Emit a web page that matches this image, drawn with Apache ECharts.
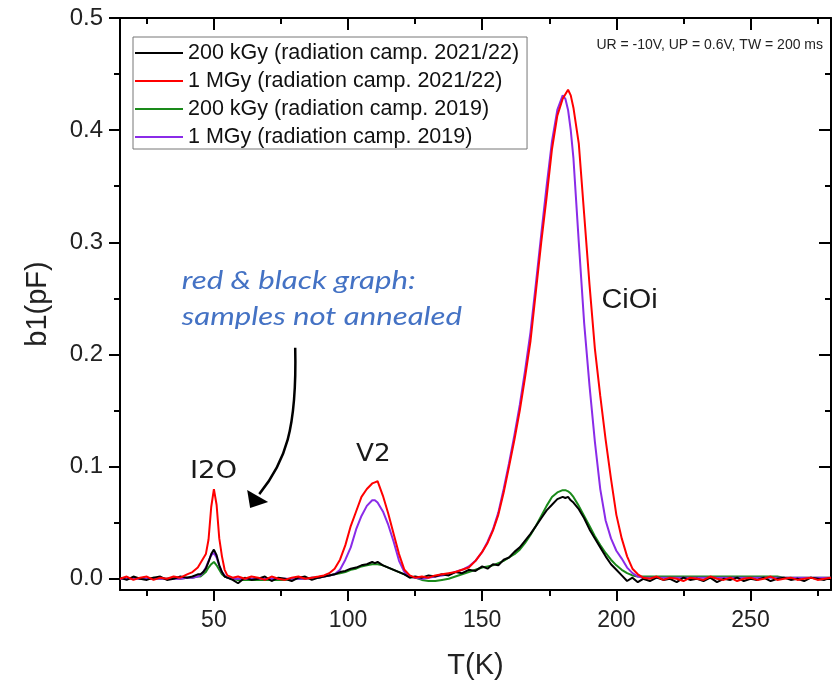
<!DOCTYPE html>
<html>
<head>
<meta charset="utf-8" />
<title>b1 DLTS spectra</title>
<script src="https://cdn.jsdelivr.net/npm/echarts@6.0.0/dist/echarts.min.js"></script>
<style>
  html, body { margin: 0; padding: 0; background: #fff; }
  #chart { width: 832px; height: 682px; }
</style>
</head>
<body>
<div id="chart"></div>
<script type="text/javascript">
  // temperature points (K), shared by the four curves
  const temps = [
    15, 17.5, 20, 22.5, 25, 27.5, 30, 32.5, 35, 37.5, 40,
    42, 44,
    45, 46, 47, 48, 49, 50, 51, 52, 53, 54, 55,
    57, 59,
    61.5, 64, 66.5, 69, 71.5, 74, 76.5, 79, 81.5, 84, 86.5, 89,
    91, 93, 95, 97, 99, 101, 103, 105, 107, 109,
    110, 111,
    113, 115, 117, 119, 121, 123, 125,
    127.5, 130, 132.5, 135, 137.5, 140, 142.5, 145, 147.5, 150,
    152, 154, 156, 158, 160, 162, 164, 166, 168, 170, 172, 174, 176, 178, 180,
    181, 182, 183, 184,
    186, 188, 190, 192, 194, 196, 198, 200, 202, 204, 206, 208, 210,
    212.5, 215, 217.5, 220, 222.5, 225, 227.5, 230, 232.5, 235, 237.5, 240, 242.5, 245,
    247.5, 250, 252.5, 255, 257.5, 260, 262.5, 265, 267.5, 270, 272.5, 275, 277.5, 280
  ];

  // b1 (pF)
  const kgy200_2122 = [
    0.001, -0.001, 0.002, 0.000, -0.001, 0.001, 0.002, -0.001, 0.000, 0.002, 0.001,
    0.002, 0.004,
    0.004, 0.006, 0.009, 0.015, 0.022, 0.026, 0.021, 0.012, 0.006, 0.002, 0.001,
    -0.001, -0.004,
    0.001, -0.001, 0.000, 0.002, -0.002, 0.001, 0.000, -0.002, 0.001, 0.002, -0.001, 0.001,
    0.002, 0.003, 0.004, 0.006, 0.007, 0.009, 0.010, 0.012, 0.013, 0.015,
    0.014, 0.015,
    0.012, 0.010, 0.008, 0.006, 0.004, 0.001, 0.002,
    0.001, 0.003, 0.002, 0.004, 0.003, 0.006, 0.005, 0.008, 0.007, 0.011,
    0.009, 0.013, 0.012, 0.017, 0.019, 0.024, 0.028, 0.034, 0.040, 0.047, 0.054, 0.061, 0.066, 0.071, 0.073,
    0.072, 0.073, 0.070, 0.068,
    0.062, 0.054, 0.044, 0.036, 0.028, 0.020, 0.013, 0.008, 0.003, -0.002, 0.001, -0.003, 0.000,
    -0.002, 0.001, -0.001, 0.000, -0.003, 0.001, -0.001, 0.000, -0.002, 0.001, -0.003, 0.000, -0.001, 0.001,
    -0.002, 0.000, -0.001, 0.001, -0.002, 0.000, 0.001, -0.001, 0.000, -0.002, 0.001, 0.000, -0.001, 0.001
  ];
  const mgy1_2122 = [
    0.000, 0.002, -0.001, 0.001, 0.002, -0.001, 0.001, 0.000, 0.002, 0.001, 0.004,
    0.006, 0.010,
    0.014, 0.018, 0.022, 0.035, 0.064, 0.080, 0.066, 0.036, 0.020, 0.008, 0.003,
    0.001, 0.002,
    0.000, 0.002, 0.001, -0.001, 0.002, 0.000, -0.001, 0.001, 0.002, 0.000, 0.001, 0.002,
    0.003, 0.005, 0.009, 0.017, 0.030, 0.047, 0.060, 0.073, 0.080, 0.085,
    0.086, 0.087,
    0.074, 0.058, 0.040, 0.022, 0.008, 0.003, 0.001,
    0.002, 0.001, 0.003, 0.004, 0.005, 0.006, 0.008, 0.010, 0.016, 0.024,
    0.032, 0.043, 0.057, 0.077, 0.100, 0.124, 0.150, 0.180, 0.212, 0.256, 0.300, 0.340, 0.383, 0.413, 0.428,
    0.432, 0.436, 0.431, 0.420,
    0.388, 0.325, 0.262, 0.205, 0.163, 0.124, 0.089, 0.057, 0.036, 0.020, 0.009, 0.004, 0.001,
    0.000, 0.002, -0.001, 0.001, 0.000, -0.002, 0.001, 0.000, -0.001, 0.002, 0.000, -0.001, 0.001, -0.002,
    0.000, 0.001, -0.001, 0.000, 0.002, -0.001, 0.000, 0.001, -0.001, 0.000, 0.001, -0.001, 0.000, 0.001
  ];
  const kgy200_2019 = [
    0.000, 0.000, 0.001, 0.000, 0.000, 0.001, 0.000, 0.000, 0.001, 0.000, 0.001,
    0.001, 0.002,
    0.002, 0.004, 0.006, 0.010, 0.013, 0.015, 0.012, 0.008, 0.004, 0.002, 0.001,
    0.000, -0.001,
    -0.001, -0.001, -0.001, -0.001, -0.001, -0.001, -0.001, 0.000, 0.000, 0.000, 0.001, 0.001,
    0.002, 0.003, 0.004, 0.005, 0.006, 0.008, 0.009, 0.011, 0.012, 0.013,
    0.013, 0.013,
    0.012, 0.010, 0.008, 0.006, 0.004, 0.002, 0.001,
    -0.001, -0.002, -0.002, -0.001, 0.000, 0.002, 0.004, 0.006, 0.008, 0.010,
    0.011, 0.012, 0.014, 0.016, 0.019, 0.022, 0.026, 0.032, 0.039, 0.047, 0.056, 0.065, 0.073, 0.077, 0.079,
    0.079, 0.078, 0.076, 0.073,
    0.065, 0.056, 0.047, 0.038, 0.030, 0.023, 0.017, 0.012, 0.008, 0.005, 0.003, 0.002, 0.002,
    0.002, 0.002, 0.002, 0.002, 0.002, 0.002, 0.002, 0.002, 0.002, 0.002, 0.002, 0.002, 0.002, 0.002,
    0.002, 0.002, 0.002, 0.002, 0.002, 0.002, 0.001, 0.001, 0.001, 0.001, 0.001, 0.001, 0.001, 0.001
  ];
  const mgy1_2019 = [
    0.000, 0.000, 0.000, 0.000, 0.000, 0.000, 0.000, 0.000, 0.000, 0.000, 0.001,
    0.001, 0.002,
    0.003, 0.006, 0.010, 0.016, 0.021, 0.023, 0.019, 0.012, 0.006, 0.003, 0.001,
    0.000, 0.000,
    0.000, 0.000, 0.000, 0.000, 0.000, 0.000, 0.000, 0.000, 0.000, 0.000, 0.001, 0.001,
    0.002, 0.003, 0.004, 0.008, 0.017, 0.028, 0.044, 0.056, 0.065, 0.070,
    0.070, 0.068,
    0.060, 0.048, 0.033, 0.016, 0.006, 0.002, 0.001,
    0.000, 0.001, 0.002, 0.003, 0.004, 0.006, 0.008, 0.011, 0.016, 0.024,
    0.033, 0.044, 0.059, 0.080, 0.103, 0.128, 0.155, 0.186, 0.220, 0.263, 0.307, 0.350, 0.390, 0.418, 0.431,
    0.428, 0.418, 0.400, 0.375,
    0.300, 0.228, 0.172, 0.122, 0.080, 0.052, 0.036, 0.025, 0.018, 0.010, 0.005, 0.002, 0.001,
    0.001, 0.001, 0.001, 0.001, 0.001, 0.001, 0.001, 0.001, 0.001, 0.001, 0.001, 0.001, 0.001, 0.001,
    0.001, 0.001, 0.001, 0.001, 0.001, 0.001, 0.001, 0.001, 0.001, 0.001, 0.001, 0.001, 0.001, 0.001
  ];

  const seriesNames = [
    '200 kGy (radiation camp. 2021/22)',
    '1 MGy (radiation camp. 2021/22)',
    '200 kGy (radiation camp. 2019)',
    '1 MGy (radiation camp. 2019)'
  ];
  const seriesColors = ['#000000', '#ff0000', '#1a8a1a', '#8a2be8'];
  const seriesZ = [4, 5, 2, 3];

  const xMajor = [50, 100, 150, 200, 250];
  const xMinor = [25, 75, 125, 175, 225, 275];
  const yMajor = [0, 0.1, 0.2, 0.3, 0.4, 0.5];
  const yMinor = [0.05, 0.15, 0.25, 0.35, 0.45];

  // annotation anchors in data units (T, b1)
  const peakLabels = [
    { text: 'I2O', at: [49.9, 0.096], font: '25px "DejaVu Sans"', sx: 1.1 },
    { text: 'V2', at: [109.4, 0.111], font: '25px "DejaVu Sans"', sx: 1.05 },
    { text: 'CiOi', at: [204.9, 0.248], font: '27px "Liberation Sans"', sx: 1.07 }
  ];
  const noteAt = [38.0, 0.2495];
  const arrowCurve = [[80.3, 0.206], [81.0, 0.133], [76.6, 0.104], [66.9, 0.0755]];
  const arrowHead = [[63.5, 0.0631], [62.4, 0.0792], [70.2, 0.0685]];

  const chart = echarts.init(document.getElementById('chart'));
  const axisFont = 'Liberation Sans';
  const black = { color: '#000', width: 2 };

  function xAx(pos, ticks, len, inside, line, labels) {
    return {
      type: 'value', position: pos, min: 15, max: 280,
      axisLine: { show: line, onZero: false, lineStyle: black },
      axisTick: { show: true, inside: inside, length: len, customValues: ticks, lineStyle: black },
      axisLabel: labels ? {
        customValues: ticks, margin: 19, fontSize: 23, color: '#222', fontFamily: axisFont
      } : { show: false, customValues: ticks },
      splitLine: { show: false }
    };
  }
  function yAx(pos, ticks, len, inside, line, labels) {
    return {
      type: 'value', position: pos, min: -0.01, max: 0.5,
      axisLine: { show: line, onZero: false, lineStyle: black },
      axisTick: { show: true, inside: inside, length: len, customValues: ticks, lineStyle: black },
      axisLabel: labels ? {
        customValues: ticks, margin: 17, fontSize: 24, color: '#222', fontFamily: axisFont,
        formatter: v => v.toFixed(1)
      } : { show: false, customValues: ticks },
      splitLine: { show: false }
    };
  }

  const xBottom = xAx('bottom', xMajor, 11, false, true, true);
  xBottom.name = 'T(K)';
  xBottom.nameLocation = 'middle';
  xBottom.nameGap = 61;
  xBottom.nameTextStyle = { fontSize: 29, color: '#222', fontFamily: axisFont };
  const yLeft = yAx('left', yMajor, 11, false, true, true);
  yLeft.name = 'b1(pF)';
  yLeft.nameLocation = 'middle';
  yLeft.nameGap = 68;
  yLeft.nameTextStyle = { fontSize: 29, color: '#222', fontFamily: axisFont };

  const option = {
    animation: false,
    backgroundColor: '#fff',
    grid: { left: 120, right: 1, top: 18, bottom: 92, outerBoundsMode: 'none' },
    legend: {
      orient: 'vertical', left: 133, top: 37,
      padding: [5, 8, 1, 2], itemGap: 6, itemWidth: 48, itemHeight: 2,
      icon: 'rect',
      borderColor: '#777', borderWidth: 1,
      textStyle: { fontSize: 21.5, color: '#111', fontFamily: axisFont },
      data: seriesNames
    },
    xAxis: [
      xBottom,
      xAx('bottom', xMinor, 6, false, false, false),
      xAx('top', xMajor, 12, true, true, false),
      xAx('top', xMinor, 6, true, false, false)
    ],
    yAxis: [
      yLeft,
      yAx('left', yMinor, 6, false, false, false),
      yAx('right', yMajor, 12, true, true, false),
      yAx('right', yMinor, 6, true, false, false)
    ],
    series: [kgy200_2122, mgy1_2122, kgy200_2019, mgy1_2019].map((vals, i) => ({
      name: seriesNames[i],
      type: 'line',
      xAxisIndex: 0,
      yAxisIndex: 0,
      z: seriesZ[i],
      symbol: 'none',
      showSymbol: false,
      color: seriesColors[i],
      lineStyle: { color: seriesColors[i], width: 2 },
      data: temps.map((t, k) => [t, vals[k]])
    }))
  };
  chart.setOption(option);

  // annotations, placed through the axes
  const at = p => chart.convertToPixel({ seriesIndex: 0 }, p);
  const c = arrowCurve.map(at);
  const graphic = peakLabels.map(l => {
    const p = at(l.at);
    return {
      type: 'text', x: p[0], y: p[1], z: 10, scaleX: l.sx,
      style: { text: l.text, font: l.font, fill: '#1a1a1a', align: 'center', verticalAlign: 'middle' }
    };
  });
  const n = at(noteAt);
  graphic.push({
    type: 'text', x: n[0], y: n[1], z: 10, scaleX: 1.2,
    style: {
      text: 'red & black graph:\nsamples not annealed',
      font: 'italic 26px Lato', lineHeight: 36, fill: '#4472c4',
      align: 'left', verticalAlign: 'middle'
    }
  });
  graphic.push({
    type: 'bezierCurve', z: 10,
    shape: {
      x1: c[0][0], y1: c[0][1], cpx1: c[1][0], cpy1: c[1][1],
      cpx2: c[2][0], cpy2: c[2][1], x2: c[3][0], y2: c[3][1]
    },
    style: { stroke: '#000', lineWidth: 2.5, fill: null }
  });
  graphic.push({
    type: 'polygon', z: 10,
    shape: { points: arrowHead.map(at) },
    style: { fill: '#000' }
  });
  graphic.push({
    type: 'text', right: 9, top: 38, z: 10,
    style: { text: 'UR = -10V, UP = 0.6V, TW = 200 ms', font: '14px "Liberation Sans"', fill: '#222' }
  });
  chart.setOption({ graphic: graphic });
</script>
</body>
</html>
